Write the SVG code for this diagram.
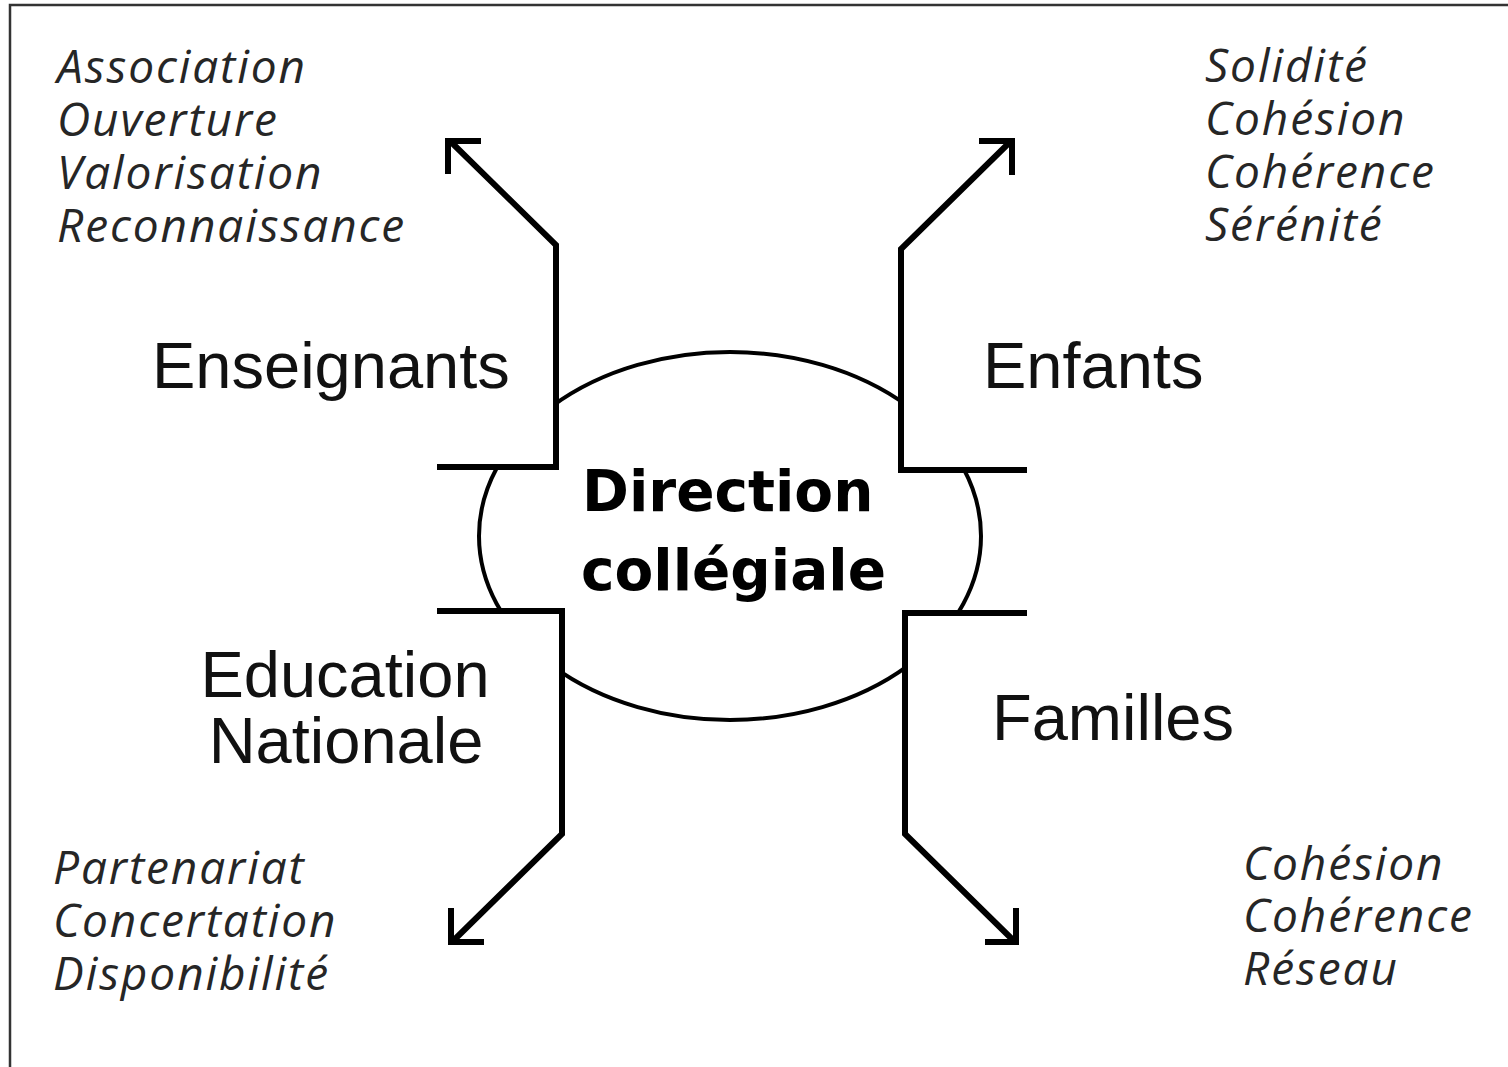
<svg xmlns="http://www.w3.org/2000/svg" width="1508" height="1067" viewBox="0 0 1508 1067">
<style>
.frame{stroke:#333;stroke-width:2.5;fill:none}
.conn{stroke:#000;stroke-width:6;fill:none;stroke-linejoin:miter;stroke-linecap:butt}
.ell{stroke:#000;stroke-width:4;fill:#fff}
.mask{fill:#fff}
.lab{font-family:Arial,"Liberation Sans",sans-serif;font-size:65px;fill:#111}
.cen{font-family:"DejaVu Sans",sans-serif;font-weight:bold;font-size:56.5px;fill:#000}
.it{font-family:"Open Sans","Noto Sans",sans-serif;font-style:italic;font-size:46px;letter-spacing:1.9px;fill:#262626}
</style>
<rect width="1508" height="1067" fill="#fff"/>
<path class="frame" d="M10,1067 V5 H1508"/>
<g id="centre">
<ellipse class="ell" cx="730" cy="536" rx="251" ry="184"/>
<rect class="mask" x="300" y="250" width="256" height="217"/>
<rect class="mask" x="300" y="612" width="262" height="220"/>
<rect class="mask" x="901" y="250" width="200" height="220"/>
<rect class="mask" x="905" y="613" width="200" height="220"/>
<text class="cen" x="582" y="511">Direction</text>
<text class="cen" x="581" y="590">collégiale</text>
</g>
<g id="connectors">
<polyline class="conn" points="437,467 556,467 556,245 450,141"/>
<polyline class="conn" points="448,174 448,141 481,141"/>
<polyline class="conn" points="1027,470 901,470 901,249 1011,141"/>
<polyline class="conn" points="979,141 1012,141 1012,175"/>
<polyline class="conn" points="437,611 562,611 562,834 453,941"/>
<polyline class="conn" points="451,908 451,942 484,942"/>
<polyline class="conn" points="1027,613 905,613 905,834 1014,941"/>
<polyline class="conn" points="985,942 1016,942 1016,908"/>
</g>
<g id="enseignants">
<text class="lab" x="152" y="388">Enseignants</text>
<text class="it" x="57" y="83">Association</text>
<text class="it" x="57" y="136">Ouverture</text>
<text class="it" x="57" y="189">Valorisation</text>
<text class="it" x="57" y="242">Reconnaissance</text>
</g>
<g id="enfants">
<text class="lab" x="983" y="388">Enfants</text>
<text class="it" x="1205" y="82">Solidité</text>
<text class="it" x="1205" y="135">Cohésion</text>
<text class="it" x="1205" y="188">Cohérence</text>
<text class="it" x="1205" y="241">Sérénité</text>
</g>
<g id="education">
<text class="lab" x="345" y="697" text-anchor="middle">Education</text>
<text class="lab" x="346" y="763" text-anchor="middle">Nationale</text>
<text class="it" x="53" y="884">Partenariat</text>
<text class="it" x="53" y="937">Concertation</text>
<text class="it" x="53" y="990">Disponibilité</text>
</g>
<g id="familles">
<text class="lab" x="992" y="740">Familles</text>
<text class="it" x="1243" y="880">Cohésion</text>
<text class="it" x="1243" y="932">Cohérence</text>
<text class="it" x="1243" y="985">Réseau</text>
</g>
</svg>
